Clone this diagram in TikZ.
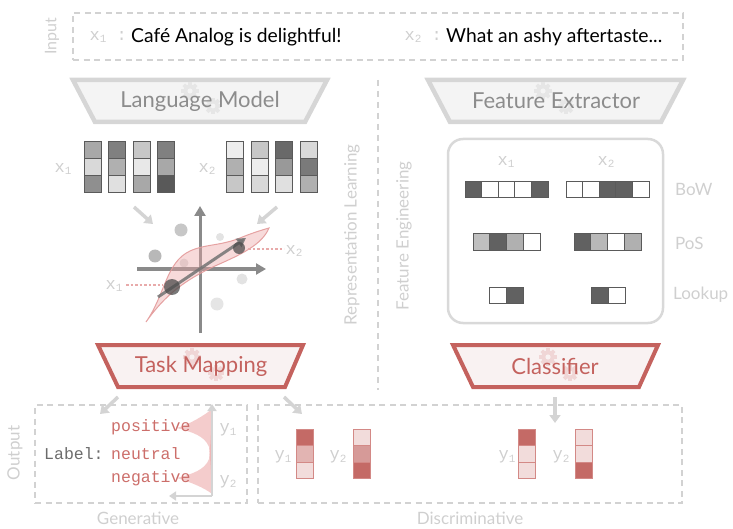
\documentclass[tikz,border=0pt]{standalone}
\usepackage{fontspec}
\setmainfont{Lato}
\newfontfamily\monof{Liberation Mono}
\usetikzlibrary{arrows.meta}
\definecolor{dashc}{HTML}{D2D2D2}
\definecolor{lgtxt}{HTML}{CFCFCF}
\definecolor{trapg}{HTML}{F4F4F4}
\definecolor{trapgd}{HTML}{D6D6D6}
\definecolor{trapgt}{HTML}{8C8C8C}
\definecolor{gearg}{HTML}{E6E6E6}
\definecolor{redm}{HTML}{C4625E}
\definecolor{redf}{HTML}{F9F2F2}
\definecolor{gearr}{HTML}{F0D6D6}
\definecolor{redd}{HTML}{C46A66}
\definecolor{redmid}{HTML}{E2B4B2}
\definecolor{redl}{HTML}{F2DCDB}
\definecolor{redmidd}{HTML}{D69A98}
\definecolor{redtxt}{HTML}{CC6E6A}
\definecolor{pinkf}{HTML}{EBA3A3}
\definecolor{pinkd}{HTML}{E39A9A}
\definecolor{axisc}{HTML}{8A8A8A}
\definecolor{arrc}{HTML}{D4D4D4}
\definecolor{cellb}{HTML}{5A5A5A}
\definecolor{boxc}{HTML}{D9D9D9}
\definecolor{dotc}{HTML}{E8AAAA}
\newcommand\gearicon[5]{%
  \foreach \ga in {0,45,90,135}{\fill[#4, rotate around={\ga:(#1,#2)}] (#1-1.8,#2-#3-2.2) rectangle (#1+1.8,#2+#3+2.2);}
  \fill[#4] (#1,#2) circle[radius=#3pt];
  \fill[#5] (#1,#2) circle[radius={0.4*#3pt}];}
\newcommand\sub[1]{\raisebox{-0.3ex}{\fontsize{11}{11}\selectfont #1}}
\begin{document}
\begin{tikzpicture}[x=1pt,y=-1pt,
  dashbox/.style={draw=dashc, line width=2.5pt, dash pattern=on 6pt off 4.5pt},
  lgarrow/.style={draw=arrc, line width=3.5pt, -{Triangle[length=8pt,width=11pt]}},
  sidelab/.style={text=lgtxt, font=\fontsize{17}{17}\selectfont, rotate=90, inner sep=0pt},
  monolab/.style={text=lgtxt, font=\monof\fontsize{17}{17}\selectfont, inner sep=0pt},
  graytrap/.style={fill=trapg, draw=trapgd, line width=4.5pt, line join=miter},
  redtrap/.style={fill=redf, draw=redm, line width=4pt, line join=miter},
  traptext/.style={font=\fontsize{22}{22}\selectfont, inner sep=0pt},
  cell/.style={draw=cellb, line width=1pt},
  rcell/.style={draw=redm!75, line width=1pt},
  feat/.style={text=lgtxt, font=\fontsize{17}{17}\selectfont, anchor=west, inner sep=0pt},
  gentext/.style={font=\monof\fontsize{16.5}{16.5}\selectfont, anchor=west, inner sep=0pt},
  ]
\useasboundingbox (0,0) rectangle (733,529);

% ---------------- Input ----------------
\node[dashbox, minimum width=610pt, minimum height=47pt] (inbox) at (378,36.5) {};
\node[sidelab, font=\fontsize{16}{16}\selectfont] (inlab) at (52,36) {Input};
\node[monolab, anchor=east] (x1in) at (127,37) {x\sub{1} :};
\node[anchor=west, inner sep=0pt, font=\fontsize{19.3}{19.3}\selectfont] (s1) at (131,37) {Café Analog is delightful!};
\node[monolab, anchor=east] (x2in) at (442,37) {x\sub{2} :};
\node[anchor=west, inner sep=0pt, font=\fontsize{19.3}{19.3}\selectfont] (s2) at (446,37) {What an ashy aftertaste...};

% ---------------- Trapezoids top ----------------
\filldraw[graytrap] (73,80) -- (327,80) -- (305,122) -- (95,122) -- cycle;
\gearicon{190}{91}{6.5}{gearg}{trapg}
\gearicon{213}{106}{6}{gearg}{trapg}
\node[traptext, text=trapgt] (lm) at (200,101) {Language Model};

\filldraw[graytrap] (428,80) -- (683,80) -- (661,122) -- (450,122) -- cycle;
\gearicon{543}{91}{6.5}{gearg}{trapg}
\gearicon{566}{106}{6}{gearg}{trapg}
\node[traptext, text=trapgt] (fe) at (556,101) {Feature Extractor};

% divider
\draw[dashc, line width=2.5pt, dash pattern=on 6pt off 5pt] (378,80) -- (378,390);
\node[sidelab] (replab) at (352,235) {Representation Learning};
\node[sidelab] (felab) at (404,236) {Feature Engineering};

% ---------------- LM vectors ----------------
\node[monolab] (lx1) at (63,169) {x\sub{1}};
\node[monolab] (lx2) at (207,169) {x\sub{2}};
\foreach \xx/\a/\b/\c in {84/34/15/44, 108/50/31/12, 133/22/9/34, 157/50/34/65,
                         226/7/31/22, 251/22/7/15, 275/59/40/12, 300/15/52/31}{
  \filldraw[cell, fill=black!\a] (\xx,142) rectangle ++(17,17);
  \filldraw[cell, fill=black!\b] (\xx,159) rectangle ++(17,17);
  \filldraw[cell, fill=black!\c] (\xx,176) rectangle ++(17,17);
}
\coordinate (la1) at (134,207);
\coordinate (la2) at (153,224);
\coordinate (ra1) at (277,207);
\coordinate (ra2) at (257,224);
\draw[lgarrow] (la1) -- (la2);
\draw[lgarrow] (ra1) -- (ra2);

% ---------------- Scatter ----------------
\fill[black!22] (181,230) circle[radius=6.5pt];
\fill[black!28] (155,256) circle[radius=6.5pt];
\fill[black!11] (220,237) circle[radius=4pt];
\fill[black!12] (184,263) circle[radius=4.5pt];
\fill[black!11] (242,279) circle[radius=5.5pt];
\fill[black!10] (217,304) circle[radius=6.5pt];
\coordinate (ax0) at (200,333);
\coordinate (ax1) at (200,206);
\coordinate (ay0) at (137,269);
\coordinate (ay1) at (266,269);
\draw[axisc, line width=3pt, -{Triangle[length=10pt,width=11pt]}] (ax0) -- (ax1);
\draw[axisc, line width=3pt, -{Triangle[length=10pt,width=11pt]}] (ay0) -- (ay1);
\filldraw[fill=pinkf, fill opacity=0.4, draw=pinkd, draw opacity=0.9, line width=1pt]
  (146,322) .. controls (165,295) and (166,262) .. (190,251)
  .. controls (205,244) and (220,246) .. (240,238)
  .. controls (252,233) and (262,230) .. (269,228)
  .. controls (262,245) and (240,255) .. (215,266)
  .. controls (185,280) and (165,295) .. (146,322) -- cycle;
\coordinate (v0) at (158,297);
\coordinate (v1) at (246,238);
\draw[black!55, draw opacity=0.85, line width=3pt, -{Triangle[length=9pt,width=10pt]}] (v0) -- (v1);
\fill[black!70, fill opacity=0.75] (172,287) circle[radius=8pt];
\fill[black!70, fill opacity=0.75] (239,248) circle[radius=6pt];
\node[monolab] (sx1) at (114,286) {x\sub{1}};
\node[monolab] (sx2) at (294,251) {x\sub{2}};
\coordinate (d1a) at (126,285);
\coordinate (d1b) at (163,285);
\coordinate (d2a) at (248,249);
\coordinate (d2b) at (284,249);
\draw[dotc, line width=2.5pt, dash pattern=on 2.5pt off 2pt] (d1a) -- (d1b);
\draw[dotc, line width=2.5pt, dash pattern=on 2.5pt off 2pt] (d2a) -- (d2b);

% ---------------- Feature box ----------------
\node[draw=boxc, line width=2.5pt, rounded corners=15pt, minimum width=215pt, minimum height=184pt] (febox) at (555.5,231) {};
\node[monolab] (fx1) at (506,162) {x\sub{1}};
\node[monolab] (fx2) at (606,162) {x\sub{2}};
\def\dk{62}
\foreach \i/\c in {0/\dk, 1/0, 2/0, 3/0, 4/\dk}{
  \filldraw[cell, fill=black!\c] (465+\i*16.6,182) rectangle ++(16.6,16);}
\foreach \i/\c in {0/0, 1/0, 2/\dk, 3/\dk, 4/0}{
  \filldraw[cell, fill=black!\c] (566+\i*16.6,182) rectangle ++(16.6,16);}
\foreach \i/\c in {0/25, 1/\dk, 2/31, 3/0}{
  \filldraw[cell, fill=black!\c] (473+\i*16.8,234) rectangle ++(16.8,17);}
\foreach \i/\c in {0/\dk, 1/28, 2/0, 3/31}{
  \filldraw[cell, fill=black!\c] (574+\i*16.8,234) rectangle ++(16.8,17);}
\foreach \i/\c in {0/0, 1/\dk}{
  \filldraw[cell, fill=black!\c] (489+\i*17,287) rectangle ++(17,16);}
\foreach \i/\c in {0/\dk, 1/0}{
  \filldraw[cell, fill=black!\c] (591+\i*17,287) rectangle ++(17,16);}
\node[feat] (bow) at (675,189) {BoW};
\node[feat] (pos) at (675,243) {PoS};
\node[feat] (lookup) at (673,295) {Lookup};

% ---------------- Bottom trapezoids ----------------
\filldraw[redtrap] (98,345) -- (303,345) -- (285,387) -- (118,387) -- cycle;
\gearicon{192}{357}{6.5}{gearr}{redf}
\gearicon{216}{373}{6}{gearr}{redf}
\node[traptext, text=redm] (tm) at (201,366) {Task Mapping};

\filldraw[redtrap] (453,345) -- (658,345) -- (639,387) -- (473,387) -- cycle;
\gearicon{548}{357}{6.5}{gearr}{redf}
\gearicon{570}{373}{6}{gearr}{redf}
\node[traptext, text=redm] (cl) at (555,366) {Classifier};

% ---------------- Output ----------------
\node[dashbox, minimum width=212pt, minimum height=98pt] (genbox) at (141,454) {};
\node[dashbox, minimum width=424pt, minimum height=98pt] (discbox) at (470,454) {};
\node[sidelab] (outlab) at (15,453) {Output};
\node[text=lgtxt, font=\fontsize{17}{17}\selectfont, inner sep=0pt] (genlab) at (138,518) {Generative};
\node[text=lgtxt, font=\fontsize{17}{17}\selectfont, inner sep=0pt] (disclab) at (470,518) {Discriminative};

\coordinate (ta1) at (118,397);
\coordinate (ta2) at (100,414);
\coordinate (tb1) at (284,397);
\coordinate (tb2) at (302,414);
\coordinate (ca1) at (555,397);
\coordinate (ca2) at (555,423);
\draw[lgarrow] (ta1) -- (ta2);
\draw[lgarrow] (tb1) -- (tb2);
\draw[lgarrow] (ca1) -- (ca2);

% generative content
\fill[pinkf, fill opacity=0.55]
  (212,409) .. controls (205,415) and (190,424) .. (177,428)
  .. controls (192,432) and (205,436) .. (209,447)
  .. controls (211,465) and (211,480) .. (212,492) -- cycle;
\fill[pinkf, fill opacity=0.55]
  (212,494) .. controls (205,488) and (190,482) .. (177,478)
  .. controls (192,474) and (205,470) .. (209,459)
  .. controls (211,440) and (211,425) .. (212,410) -- cycle;
\coordinate (g0) at (212,496);
\coordinate (gv) at (212,404);
\coordinate (gh) at (169,496);
\draw[arrc, line width=2.5pt, -{Triangle[length=7pt,width=9pt]}] (g0) -- (gv);
\draw[arrc, line width=2.5pt, -{Triangle[length=7pt,width=9pt]}] (g0) -- (gh);
\node[gentext, text=black!58] (lab) at (44,454) {Label:};
\node[gentext, text=redtxt] (pos1) at (111,427) {positive};
\node[gentext, text=redtxt] (neu) at (111,454) {neutral};
\node[gentext, text=redtxt] (neg) at (111,478) {negative};
\node[monolab] (gy1) at (228,430) {y\sub{1}};
\node[monolab] (gy2) at (228,482) {y\sub{2}};

% discriminative content
\node[monolab] (dy1) at (283,457) {y\sub{1}};
\node[monolab] (dy2) at (338,457) {y\sub{2}};
\node[monolab] (cy1) at (507,457) {y\sub{1}};
\node[monolab] (cy2) at (561,457) {y\sub{2}};
\foreach \xx/\a/\b/\c in {296/redd/redmid/redl, 353/redl/redmidd/redd, 518/redd/redl/redl, 575/redl/redl/redd}{
  \filldraw[rcell, fill=\a] (\xx,429) rectangle ++(17,16.5);
  \filldraw[rcell, fill=\b] (\xx,445.5) rectangle ++(17,16.5);
  \filldraw[rcell, fill=\c] (\xx,462) rectangle ++(17,16.5);
}
\end{tikzpicture}
\end{document}
